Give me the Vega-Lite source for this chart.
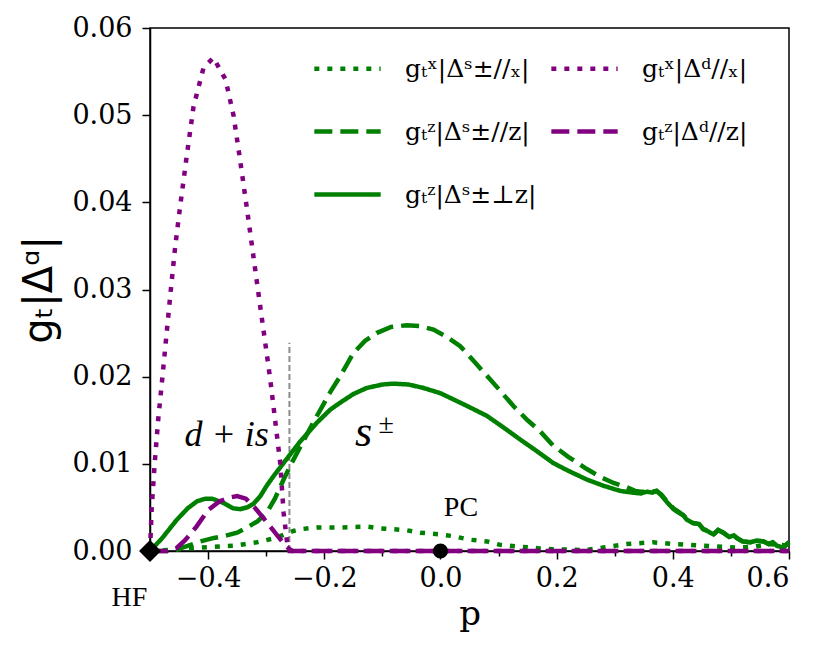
{
  "$schema": "https://vega.github.io/schema/vega-lite/v6.json",
  "width": 639,
  "height": 523,
  "autosize": {"type": "none"},
  "padding": {"left": 150, "top": 28, "right": 41, "bottom": 110},
  "background": "white",
  "datasets": {
    "curves": [
      {"series": "gₜˣ|Δˢ±//ₓ|", "p": -0.5, "v": 0},
      {"series": "gₜˣ|Δˢ±//ₓ|", "p": -0.45, "v": 0.0002},
      {"series": "gₜˣ|Δˢ±//ₓ|", "p": -0.4135, "v": 0.0004},
      {"series": "gₜˣ|Δˢ±//ₓ|", "p": -0.356, "v": 0.0006},
      {"series": "gₜˣ|Δˢ±//ₓ|", "p": -0.316, "v": 0.001},
      {"series": "gₜˣ|Δˢ±//ₓ|", "p": -0.29, "v": 0.0014},
      {"series": "gₜˣ|Δˢ±//ₓ|", "p": -0.276, "v": 0.0017},
      {"series": "gₜˣ|Δˢ±//ₓ|", "p": -0.265, "v": 0.002},
      {"series": "gₜˣ|Δˢ±//ₓ|", "p": -0.253, "v": 0.0023},
      {"series": "gₜˣ|Δˢ±//ₓ|", "p": -0.241, "v": 0.0025},
      {"series": "gₜˣ|Δˢ±//ₓ|", "p": -0.213, "v": 0.0027},
      {"series": "gₜˣ|Δˢ±//ₓ|", "p": -0.173, "v": 0.0027},
      {"series": "gₜˣ|Δˢ±//ₓ|", "p": -0.127, "v": 0.0028},
      {"series": "gₜˣ|Δˢ±//ₓ|", "p": -0.104, "v": 0.0026},
      {"series": "gₜˣ|Δˢ±//ₓ|", "p": -0.06, "v": 0.0024},
      {"series": "gₜˣ|Δˢ±//ₓ|", "p": -0.035, "v": 0.0021},
      {"series": "gₜˣ|Δˢ±//ₓ|", "p": 0.0, "v": 0.0019},
      {"series": "gₜˣ|Δˢ±//ₓ|", "p": 0.022, "v": 0.0017},
      {"series": "gₜˣ|Δˢ±//ₓ|", "p": 0.05, "v": 0.0013},
      {"series": "gₜˣ|Δˢ±//ₓ|", "p": 0.08, "v": 0.0011},
      {"series": "gₜˣ|Δˢ±//ₓ|", "p": 0.103, "v": 0.0007},
      {"series": "gₜˣ|Δˢ±//ₓ|", "p": 0.137, "v": 0.0005},
      {"series": "gₜˣ|Δˢ±//ₓ|", "p": 0.17, "v": 0.0003},
      {"series": "gₜˣ|Δˢ±//ₓ|", "p": 0.194, "v": 0.0002},
      {"series": "gₜˣ|Δˢ±//ₓ|", "p": 0.25, "v": 0.0001},
      {"series": "gₜˣ|Δˢ±//ₓ|", "p": 0.28, "v": 0.0004},
      {"series": "gₜˣ|Δˢ±//ₓ|", "p": 0.32, "v": 0.0008},
      {"series": "gₜˣ|Δˢ±//ₓ|", "p": 0.366, "v": 0.001},
      {"series": "gₜˣ|Δˢ±//ₓ|", "p": 0.4, "v": 0.0008},
      {"series": "gₜˣ|Δˢ±//ₓ|", "p": 0.4525, "v": 0.0006},
      {"series": "gₜˣ|Δˢ±//ₓ|", "p": 0.51, "v": 0.0004},
      {"series": "gₜˣ|Δˢ±//ₓ|", "p": 0.54, "v": 0.0005},
      {"series": "gₜˣ|Δˢ±//ₓ|", "p": 0.567, "v": 0.0008},
      {"series": "gₜˣ|Δˢ±//ₓ|", "p": 0.6, "v": 0.0006},

      {"series": "gₜᶻ|Δˢ±//z|", "p": -0.5, "v": 0},
      {"series": "gₜᶻ|Δˢ±//z|", "p": -0.47, "v": 0},
      {"series": "gₜᶻ|Δˢ±//z|", "p": -0.448, "v": 0.0003},
      {"series": "gₜᶻ|Δˢ±//z|", "p": -0.43, "v": 0.0007},
      {"series": "gₜᶻ|Δˢ±//z|", "p": -0.4135, "v": 0.0011},
      {"series": "gₜᶻ|Δˢ±//z|", "p": -0.39, "v": 0.0015},
      {"series": "gₜᶻ|Δˢ±//z|", "p": -0.373, "v": 0.0017},
      {"series": "gₜᶻ|Δˢ±//z|", "p": -0.35, "v": 0.0021},
      {"series": "gₜᶻ|Δˢ±//z|", "p": -0.333, "v": 0.0027},
      {"series": "gₜᶻ|Δˢ±//z|", "p": -0.315, "v": 0.0034},
      {"series": "gₜᶻ|Δˢ±//z|", "p": -0.299, "v": 0.0044},
      {"series": "gₜᶻ|Δˢ±//z|", "p": -0.285, "v": 0.006},
      {"series": "gₜᶻ|Δˢ±//z|", "p": -0.27, "v": 0.0082},
      {"series": "gₜᶻ|Δˢ±//z|", "p": -0.256, "v": 0.0101},
      {"series": "gₜᶻ|Δˢ±//z|", "p": -0.241, "v": 0.012},
      {"series": "gₜᶻ|Δˢ±//z|", "p": -0.2185, "v": 0.0148},
      {"series": "gₜᶻ|Δˢ±//z|", "p": -0.19, "v": 0.0182},
      {"series": "gₜᶻ|Δˢ±//z|", "p": -0.173, "v": 0.02},
      {"series": "gₜᶻ|Δˢ±//z|", "p": -0.15, "v": 0.0227},
      {"series": "gₜᶻ|Δˢ±//z|", "p": -0.13, "v": 0.0241},
      {"series": "gₜᶻ|Δˢ±//z|", "p": -0.11, "v": 0.025},
      {"series": "gₜᶻ|Δˢ±//z|", "p": -0.085, "v": 0.0257},
      {"series": "gₜᶻ|Δˢ±//z|", "p": -0.058, "v": 0.0259},
      {"series": "gₜᶻ|Δˢ±//z|", "p": -0.035, "v": 0.0258},
      {"series": "gₜᶻ|Δˢ±//z|", "p": -0.012, "v": 0.0254},
      {"series": "gₜᶻ|Δˢ±//z|", "p": 0.01, "v": 0.0246},
      {"series": "gₜᶻ|Δˢ±//z|", "p": 0.034, "v": 0.0235},
      {"series": "gₜᶻ|Δˢ±//z|", "p": 0.06, "v": 0.0216},
      {"series": "gₜᶻ|Δˢ±//z|", "p": 0.08, "v": 0.0201},
      {"series": "gₜᶻ|Δˢ±//z|", "p": 0.1, "v": 0.0186},
      {"series": "gₜᶻ|Δˢ±//z|", "p": 0.126, "v": 0.0166},
      {"series": "gₜᶻ|Δˢ±//z|", "p": 0.15, "v": 0.015},
      {"series": "gₜᶻ|Δˢ±//z|", "p": 0.172, "v": 0.0137},
      {"series": "gₜᶻ|Δˢ±//z|", "p": 0.194, "v": 0.0121},
      {"series": "gₜᶻ|Δˢ±//z|", "p": 0.22, "v": 0.0108},
      {"series": "gₜᶻ|Δˢ±//z|", "p": 0.252, "v": 0.0094},
      {"series": "gₜᶻ|Δˢ±//z|", "p": 0.275, "v": 0.0085},
      {"series": "gₜᶻ|Δˢ±//z|", "p": 0.298, "v": 0.0078},
      {"series": "gₜᶻ|Δˢ±//z|", "p": 0.321, "v": 0.0073},
      {"series": "gₜᶻ|Δˢ±//z|", "p": 0.335, "v": 0.0069},
      {"series": "gₜᶻ|Δˢ±//z|", "p": 0.345, "v": 0.0068},
      {"series": "gₜᶻ|Δˢ±//z|", "p": 0.355, "v": 0.0068},
      {"series": "gₜᶻ|Δˢ±//z|", "p": 0.365, "v": 0.0068},
      {"series": "gₜᶻ|Δˢ±//z|", "p": 0.372, "v": 0.0069},
      {"series": "gₜᶻ|Δˢ±//z|", "p": 0.38, "v": 0.0065},
      {"series": "gₜᶻ|Δˢ±//z|", "p": 0.39, "v": 0.0057},
      {"series": "gₜᶻ|Δˢ±//z|", "p": 0.401, "v": 0.0049},
      {"series": "gₜᶻ|Δˢ±//z|", "p": 0.41, "v": 0.0045},
      {"series": "gₜᶻ|Δˢ±//z|", "p": 0.418, "v": 0.0041},
      {"series": "gₜᶻ|Δˢ±//z|", "p": 0.424, "v": 0.0037},
      {"series": "gₜᶻ|Δˢ±//z|", "p": 0.435, "v": 0.0032},
      {"series": "gₜᶻ|Δˢ±//z|", "p": 0.445, "v": 0.0031},
      {"series": "gₜᶻ|Δˢ±//z|", "p": 0.4525, "v": 0.0025},
      {"series": "gₜᶻ|Δˢ±//z|", "p": 0.462, "v": 0.0023},
      {"series": "gₜᶻ|Δˢ±//z|", "p": 0.47, "v": 0.0019},
      {"series": "gₜᶻ|Δˢ±//z|", "p": 0.478, "v": 0.0024},
      {"series": "gₜᶻ|Δˢ±//z|", "p": 0.487, "v": 0.0021},
      {"series": "gₜᶻ|Δˢ±//z|", "p": 0.497, "v": 0.0016},
      {"series": "gₜᶻ|Δˢ±//z|", "p": 0.505, "v": 0.0018},
      {"series": "gₜᶻ|Δˢ±//z|", "p": 0.51, "v": 0.0015},
      {"series": "gₜᶻ|Δˢ±//z|", "p": 0.52, "v": 0.0011},
      {"series": "gₜᶻ|Δˢ±//z|", "p": 0.533, "v": 0.001},
      {"series": "gₜᶻ|Δˢ±//z|", "p": 0.545, "v": 0.0012},
      {"series": "gₜᶻ|Δˢ±//z|", "p": 0.556, "v": 0.0011},
      {"series": "gₜᶻ|Δˢ±//z|", "p": 0.565, "v": 0.0008},
      {"series": "gₜᶻ|Δˢ±//z|", "p": 0.572, "v": 0.001},
      {"series": "gₜᶻ|Δˢ±//z|", "p": 0.579, "v": 0.0006},
      {"series": "gₜᶻ|Δˢ±//z|", "p": 0.59, "v": 0.0004},
      {"series": "gₜᶻ|Δˢ±//z|", "p": 0.6, "v": 0.001},

      {"series": "gₜᶻ|Δˢ±⊥z|", "p": -0.5, "v": 0},
      {"series": "gₜᶻ|Δˢ±⊥z|", "p": -0.48, "v": 0.0014},
      {"series": "gₜᶻ|Δˢ±⊥z|", "p": -0.4536, "v": 0.0036},
      {"series": "gₜᶻ|Δˢ±⊥z|", "p": -0.435, "v": 0.0049},
      {"series": "gₜᶻ|Δˢ±⊥z|", "p": -0.419, "v": 0.0057},
      {"series": "gₜᶻ|Δˢ±⊥z|", "p": -0.405, "v": 0.006},
      {"series": "gₜᶻ|Δˢ±⊥z|", "p": -0.393, "v": 0.006},
      {"series": "gₜᶻ|Δˢ±⊥z|", "p": -0.373, "v": 0.0055},
      {"series": "gₜᶻ|Δˢ±⊥z|", "p": -0.357, "v": 0.0049},
      {"series": "gₜᶻ|Δˢ±⊥z|", "p": -0.345, "v": 0.0048},
      {"series": "gₜᶻ|Δˢ±⊥z|", "p": -0.333, "v": 0.005},
      {"series": "gₜᶻ|Δˢ±⊥z|", "p": -0.322, "v": 0.0054},
      {"series": "gₜᶻ|Δˢ±⊥z|", "p": -0.31, "v": 0.0063},
      {"series": "gₜᶻ|Δˢ±⊥z|", "p": -0.299, "v": 0.0075},
      {"series": "gₜᶻ|Δˢ±⊥z|", "p": -0.285, "v": 0.0088},
      {"series": "gₜᶻ|Δˢ±⊥z|", "p": -0.27, "v": 0.0101},
      {"series": "gₜᶻ|Δˢ±⊥z|", "p": -0.255, "v": 0.0114},
      {"series": "gₜᶻ|Δˢ±⊥z|", "p": -0.241, "v": 0.0126},
      {"series": "gₜᶻ|Δˢ±⊥z|", "p": -0.213, "v": 0.0147},
      {"series": "gₜᶻ|Δˢ±⊥z|", "p": -0.19, "v": 0.0162},
      {"series": "gₜᶻ|Δˢ±⊥z|", "p": -0.173, "v": 0.017},
      {"series": "gₜᶻ|Δˢ±⊥z|", "p": -0.15, "v": 0.018},
      {"series": "gₜᶻ|Δˢ±⊥z|", "p": -0.127, "v": 0.0187},
      {"series": "gₜᶻ|Δˢ±⊥z|", "p": -0.1, "v": 0.0191},
      {"series": "gₜᶻ|Δˢ±⊥z|", "p": -0.081, "v": 0.0192},
      {"series": "gₜᶻ|Δˢ±⊥z|", "p": -0.055, "v": 0.0191},
      {"series": "gₜᶻ|Δˢ±⊥z|", "p": -0.029, "v": 0.0187},
      {"series": "gₜᶻ|Δˢ±⊥z|", "p": 0.0, "v": 0.0181},
      {"series": "gₜᶻ|Δˢ±⊥z|", "p": 0.022, "v": 0.0174},
      {"series": "gₜᶻ|Δˢ±⊥z|", "p": 0.05, "v": 0.0165},
      {"series": "gₜᶻ|Δˢ±⊥z|", "p": 0.08, "v": 0.0155},
      {"series": "gₜᶻ|Δˢ±⊥z|", "p": 0.11, "v": 0.0141},
      {"series": "gₜᶻ|Δˢ±⊥z|", "p": 0.137, "v": 0.0128},
      {"series": "gₜᶻ|Δˢ±⊥z|", "p": 0.165, "v": 0.0115},
      {"series": "gₜᶻ|Δˢ±⊥z|", "p": 0.194, "v": 0.0101},
      {"series": "gₜᶻ|Δˢ±⊥z|", "p": 0.22, "v": 0.0092},
      {"series": "gₜᶻ|Δˢ±⊥z|", "p": 0.252, "v": 0.0082},
      {"series": "gₜᶻ|Δˢ±⊥z|", "p": 0.28, "v": 0.0075},
      {"series": "gₜᶻ|Δˢ±⊥z|", "p": 0.309, "v": 0.0069},
      {"series": "gₜᶻ|Δˢ±⊥z|", "p": 0.33, "v": 0.0067},
      {"series": "gₜᶻ|Δˢ±⊥z|", "p": 0.345, "v": 0.0066},
      {"series": "gₜᶻ|Δˢ±⊥z|", "p": 0.355, "v": 0.0068},
      {"series": "gₜᶻ|Δˢ±⊥z|", "p": 0.365, "v": 0.0067},
      {"series": "gₜᶻ|Δˢ±⊥z|", "p": 0.372, "v": 0.0069},
      {"series": "gₜᶻ|Δˢ±⊥z|", "p": 0.38, "v": 0.0064},
      {"series": "gₜᶻ|Δˢ±⊥z|", "p": 0.39, "v": 0.0056},
      {"series": "gₜᶻ|Δˢ±⊥z|", "p": 0.401, "v": 0.0048},
      {"series": "gₜᶻ|Δˢ±⊥z|", "p": 0.41, "v": 0.0044},
      {"series": "gₜᶻ|Δˢ±⊥z|", "p": 0.418, "v": 0.0041},
      {"series": "gₜᶻ|Δˢ±⊥z|", "p": 0.424, "v": 0.0036},
      {"series": "gₜᶻ|Δˢ±⊥z|", "p": 0.435, "v": 0.0032},
      {"series": "gₜᶻ|Δˢ±⊥z|", "p": 0.445, "v": 0.0031},
      {"series": "gₜᶻ|Δˢ±⊥z|", "p": 0.4525, "v": 0.0025},
      {"series": "gₜᶻ|Δˢ±⊥z|", "p": 0.462, "v": 0.0022},
      {"series": "gₜᶻ|Δˢ±⊥z|", "p": 0.47, "v": 0.0019},
      {"series": "gₜᶻ|Δˢ±⊥z|", "p": 0.478, "v": 0.0024},
      {"series": "gₜᶻ|Δˢ±⊥z|", "p": 0.487, "v": 0.0021},
      {"series": "gₜᶻ|Δˢ±⊥z|", "p": 0.497, "v": 0.0016},
      {"series": "gₜᶻ|Δˢ±⊥z|", "p": 0.505, "v": 0.0018},
      {"series": "gₜᶻ|Δˢ±⊥z|", "p": 0.51, "v": 0.0015},
      {"series": "gₜᶻ|Δˢ±⊥z|", "p": 0.52, "v": 0.0011},
      {"series": "gₜᶻ|Δˢ±⊥z|", "p": 0.533, "v": 0.001},
      {"series": "gₜᶻ|Δˢ±⊥z|", "p": 0.545, "v": 0.0012},
      {"series": "gₜᶻ|Δˢ±⊥z|", "p": 0.556, "v": 0.0011},
      {"series": "gₜᶻ|Δˢ±⊥z|", "p": 0.565, "v": 0.0008},
      {"series": "gₜᶻ|Δˢ±⊥z|", "p": 0.572, "v": 0.001},
      {"series": "gₜᶻ|Δˢ±⊥z|", "p": 0.579, "v": 0.0006},
      {"series": "gₜᶻ|Δˢ±⊥z|", "p": 0.59, "v": 0.0004},
      {"series": "gₜᶻ|Δˢ±⊥z|", "p": 0.6, "v": 0.001},

      {"series": "gₜˣ|Δᵈ//ₓ|", "p": -0.5, "v": 0},
      {"series": "gₜˣ|Δᵈ//ₓ|", "p": -0.497, "v": 0.005},
      {"series": "gₜˣ|Δᵈ//ₓ|", "p": -0.492, "v": 0.01},
      {"series": "gₜˣ|Δᵈ//ₓ|", "p": -0.486, "v": 0.015},
      {"series": "gₜˣ|Δᵈ//ₓ|", "p": -0.479, "v": 0.0197},
      {"series": "gₜˣ|Δᵈ//ₓ|", "p": -0.465, "v": 0.0294},
      {"series": "gₜˣ|Δᵈ//ₓ|", "p": -0.4565, "v": 0.035},
      {"series": "gₜˣ|Δᵈ//ₓ|", "p": -0.448, "v": 0.0396},
      {"series": "gₜˣ|Δᵈ//ₓ|", "p": -0.436, "v": 0.0457},
      {"series": "gₜˣ|Δᵈ//ₓ|", "p": -0.425, "v": 0.051},
      {"series": "gₜˣ|Δᵈ//ₓ|", "p": -0.408, "v": 0.0554},
      {"series": "gₜˣ|Δᵈ//ₓ|", "p": -0.391, "v": 0.0566},
      {"series": "gₜˣ|Δᵈ//ₓ|", "p": -0.37, "v": 0.0541},
      {"series": "gₜˣ|Δᵈ//ₓ|", "p": -0.356, "v": 0.0499},
      {"series": "gₜˣ|Δᵈ//ₓ|", "p": -0.345, "v": 0.0449},
      {"series": "gₜˣ|Δᵈ//ₓ|", "p": -0.333, "v": 0.0392},
      {"series": "gₜˣ|Δᵈ//ₓ|", "p": -0.313, "v": 0.0294},
      {"series": "gₜˣ|Δᵈ//ₓ|", "p": -0.293, "v": 0.0197},
      {"series": "gₜˣ|Δᵈ//ₓ|", "p": -0.276, "v": 0.0102},
      {"series": "gₜˣ|Δᵈ//ₓ|", "p": -0.27, "v": 0.0044},
      {"series": "gₜˣ|Δᵈ//ₓ|", "p": -0.264, "v": 0.001},
      {"series": "gₜˣ|Δᵈ//ₓ|", "p": -0.26, "v": 0},
      {"series": "gₜˣ|Δᵈ//ₓ|", "p": 0.6, "v": 0},

      {"series": "gₜᶻ|Δᵈ//z|", "p": -0.5, "v": 0},
      {"series": "gₜᶻ|Δᵈ//z|", "p": -0.47, "v": 0},
      {"series": "gₜᶻ|Δᵈ//z|", "p": -0.455, "v": 0.0003},
      {"series": "gₜᶻ|Δᵈ//z|", "p": -0.44, "v": 0.0012},
      {"series": "gₜᶻ|Δᵈ//z|", "p": -0.42, "v": 0.0028},
      {"series": "gₜᶻ|Δᵈ//z|", "p": -0.4, "v": 0.0047},
      {"series": "gₜᶻ|Δᵈ//z|", "p": -0.38, "v": 0.0057},
      {"series": "gₜᶻ|Δᵈ//z|", "p": -0.365, "v": 0.0061},
      {"series": "gₜᶻ|Δᵈ//z|", "p": -0.35, "v": 0.0063},
      {"series": "gₜᶻ|Δᵈ//z|", "p": -0.335, "v": 0.006},
      {"series": "gₜᶻ|Δᵈ//z|", "p": -0.32, "v": 0.005},
      {"series": "gₜᶻ|Δᵈ//z|", "p": -0.3, "v": 0.0034},
      {"series": "gₜᶻ|Δᵈ//z|", "p": -0.28, "v": 0.0017},
      {"series": "gₜᶻ|Δᵈ//z|", "p": -0.265, "v": 0.0005},
      {"series": "gₜᶻ|Δᵈ//z|", "p": -0.255, "v": 0},
      {"series": "gₜᶻ|Δᵈ//z|", "p": 0.6, "v": 0}
    ],
    "divider": [{"p": -0.26, "v0": 0, "v1": 0.0239}],
    "states": [{"name": "HF", "p": -0.5, "v": 0}, {"name": "PC", "p": 0.0, "v": 0}],
    "phaseLabels": [{"p": -0.368, "v": 0.012, "text": "d + is"}],
    "sLabel": [{"p": -0.147, "v": 0.012, "text": "s"}],
    "pmLabel": [{"p": -0.0935, "v": 0.0144, "text": "±"}],
    "pointLabels": [
      {"p": 0.0353, "v": 0.004, "text": "PC"},
      {"p": -0.5355, "v": -0.0063, "text": "HF"}
    ]
  },
  "config": {
    "font": "DejaVu Serif",
    "view": {"stroke": "black", "strokeWidth": 1.5},
    "axis": {
      "grid": false,
      "domainColor": "black",
      "domainWidth": 1.5,
      "tickColor": "black",
      "tickWidth": 1.5,
      "labelColor": "black",
      "labelFont": "DejaVu Serif",
      "labelFontSize": 27,
      "titleColor": "black"
    }
  },
  "layer": [
    {
      "data": {"name": "divider"},
      "mark": {"type": "rule", "color": "#8c8c8c", "strokeWidth": 2, "strokeDash": [6, 3]},
      "encoding": {
        "x": {"field": "p", "type": "quantitative", "scale": {"domain": [-0.5, 0.6], "nice": false, "zero": false}},
        "y": {"field": "v0", "type": "quantitative", "scale": {"domain": [0, 0.06], "nice": false}},
        "y2": {"field": "v1"}
      }
    },
    {
      "data": {"name": "curves"},
      "transform": [{"filter": {"field": "series", "oneOf": ["gₜˣ|Δˢ±//ₓ|", "gₜᶻ|Δˢ±//z|", "gₜᶻ|Δˢ±⊥z|"]}}],
      "mark": {"type": "line", "strokeWidth": 4.5, "strokeCap": "butt"},
      "encoding": {
        "x": {
          "field": "p", "type": "quantitative",
          "scale": {"domain": [-0.5, 0.6], "nice": false, "zero": false},
          "axis": {
            "values": [-0.4, -0.3, -0.2, -0.1, 0, 0.1, 0.2, 0.3, 0.4, 0.5, 0.6],
            "labelExpr": "round(datum.value*10) % 2 == 0 ? format(datum.value, '.1f') : ''",
            "tickSize": {"condition": {"test": "round(datum.value*10) % 2 != 0", "value": 5}, "value": 8},
            "labelPadding": 6,
            "title": "p",
            "titleFont": "DejaVu Serif",
            "titleFontSize": 34,
            "titleFontWeight": "normal",
            "titlePadding": 6
          }
        },
        "y": {
          "field": "v", "type": "quantitative",
          "scale": {"domain": [0, 0.06], "nice": false},
          "axis": {
            "values": [0, 0.01, 0.02, 0.03, 0.04, 0.05, 0.06],
            "format": ".2f",
            "tickSize": 8,
            "labelPadding": 10,
            "title": "gₜ|Δᵅ|",
            "titleFont": "DejaVu Sans",
            "titleFontSize": 40,
            "titleFontWeight": "normal",
            "titlePadding": 12
          }
        },
        "color": {
          "field": "series", "type": "nominal",
          "scale": {
            "domain": ["gₜˣ|Δˢ±//ₓ|", "gₜᶻ|Δˢ±//z|", "gₜᶻ|Δˢ±⊥z|", "gₜˣ|Δᵈ//ₓ|", "gₜᶻ|Δᵈ//z|"],
            "range": ["#008000", "#008000", "#008000", "#800080", "#800080"]
          },
          "legend": {
            "title": null,
            "orient": "none",
            "legendX": 162,
            "legendY": 5,
            "columns": 2,
            "symbolType": "stroke",
            "symbolSize": 4400,
            "symbolStrokeWidth": 4.5,
            "labelFont": "DejaVu Serif",
            "labelFontSize": 25,
            "labelColor": "black",
            "labelOffset": 22,
            "columnPadding": 5,
            "rowPadding": 14,
            "padding": 0
          }
        },
        "strokeDash": {
          "field": "series", "type": "nominal",
          "scale": {
            "domain": ["gₜˣ|Δˢ±//ₓ|", "gₜᶻ|Δˢ±//z|", "gₜᶻ|Δˢ±⊥z|", "gₜˣ|Δᵈ//ₓ|", "gₜᶻ|Δᵈ//z|"],
            "range": [[5, 8], [18, 8], [1, 0], [5, 8], [18, 8]]
          }
        }
      }
    },
    {
      "data": {"name": "curves"},
      "transform": [{"filter": {"field": "series", "oneOf": ["gₜˣ|Δᵈ//ₓ|", "gₜᶻ|Δᵈ//z|"]}}],
      "mark": {"type": "line", "strokeWidth": 4.5, "strokeCap": "butt"},
      "encoding": {
        "x": {"field": "p", "type": "quantitative"},
        "y": {"field": "v", "type": "quantitative"},
        "color": {"field": "series", "type": "nominal"},
        "strokeDash": {"field": "series", "type": "nominal"}
      }
    },
    {
      "data": {"name": "states"},
      "mark": {"type": "point", "filled": true, "color": "black", "opacity": 1},
      "encoding": {
        "x": {"field": "p", "type": "quantitative"},
        "y": {"field": "v", "type": "quantitative"},
        "shape": {"field": "name", "type": "nominal", "scale": {"domain": ["HF", "PC"], "range": ["diamond", "circle"]}, "legend": null},
        "size": {"field": "name", "type": "nominal", "scale": {"domain": ["HF", "PC"], "range": [480, 230]}, "legend": null}
      }
    },
    {
      "data": {"name": "phaseLabels"},
      "mark": {"type": "text", "font": "Liberation Serif", "fontStyle": "italic", "fontSize": 36, "align": "center", "baseline": "alphabetic", "color": "black"},
      "encoding": {
        "x": {"field": "p", "type": "quantitative"},
        "y": {"field": "v", "type": "quantitative"},
        "text": {"field": "text"}
      }
    },
    {
      "data": {"name": "sLabel"},
      "mark": {"type": "text", "font": "Liberation Serif", "fontStyle": "italic", "fontSize": 44, "align": "left", "baseline": "alphabetic", "color": "black"},
      "encoding": {
        "x": {"field": "p", "type": "quantitative"},
        "y": {"field": "v", "type": "quantitative"},
        "text": {"field": "text"}
      }
    },
    {
      "data": {"name": "pmLabel"},
      "mark": {"type": "text", "font": "Liberation Serif", "fontSize": 28, "align": "center", "baseline": "middle", "color": "black"},
      "encoding": {
        "x": {"field": "p", "type": "quantitative"},
        "y": {"field": "v", "type": "quantitative"},
        "text": {"field": "text"}
      }
    },
    {
      "data": {"name": "pointLabels"},
      "mark": {"type": "text", "font": "Liberation Serif", "fontSize": 28, "align": "center", "baseline": "alphabetic", "color": "black"},
      "encoding": {
        "x": {"field": "p", "type": "quantitative"},
        "y": {"field": "v", "type": "quantitative"},
        "text": {"field": "text"}
      }
    }
  ]
}
